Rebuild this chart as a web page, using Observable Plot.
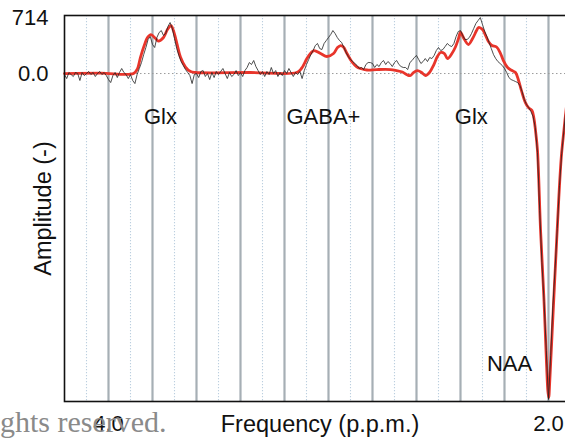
<!DOCTYPE html>
<html>
<head>
<meta charset="utf-8">
<script src="https://cdn.jsdelivr.net/npm/d3@7"></script>
<script src="https://cdn.jsdelivr.net/npm/@observablehq/plot@0.6"></script>
<style>
  html, body { margin: 0; padding: 0; background: white; overflow: hidden; }
  #wrap { position: relative; width: 565px; height: 438px; }
  #wm { position: absolute; left: 0px; top: 407px; font-family: "Liberation Serif", "Times New Roman", serif;
        font-size: 30px; line-height: 1; color: #8a8a8a; white-space: nowrap; }
</style>
</head>
<body>
<div id="wrap"><div id="chart"></div><div id="wm">ghts reserved.</div></div>
<script>
// Fitted model (red), ppm and amplitude
const fitPpm = [4.20, 4.036, 3.886, 3.868, 3.855, 3.836, 3.823, 3.807, 3.786, 3.773, 3.750, 3.732, 3.716, 3.705, 3.689, 3.673, 3.650, 3.627, 3.605, 3.355, 3.145, 3.123, 3.098, 3.082, 3.066, 3.036, 3.007, 2.977, 2.959, 2.945, 2.932, 2.916, 2.893, 2.873, 2.855, 2.825, 2.780, 2.718, 2.691, 2.664, 2.641, 2.627, 2.614, 2.595, 2.577, 2.559, 2.541, 2.523, 2.505, 2.491, 2.473, 2.459, 2.439, 2.423, 2.409, 2.400, 2.382, 2.364, 2.345, 2.327, 2.318, 2.300, 2.286, 2.273, 2.257, 2.236, 2.218, 2.205, 2.186, 2.166, 2.150, 2.136, 2.123, 2.105, 2.091, 2.075, 2.066, 2.059, 2.050, 2.036, 2.021, 2.009, 2.003, 1.999, 1.994, 1.983, 1.968, 1.953, 1.942, 1.930, 1.918];
const fitAmp = [0, 6, 0, 64, 204, 370, 459, 497, 446, 414, 459, 561, 612, 548, 383, 210, 83, 25, 13, 13, 13, 64, 191, 255, 293, 255, 217, 255, 332, 357, 338, 255, 147, 89, 64, 45, 51, 51, 38, 19, -19, -25, 13, 38, 13, -25, 13, 102, 217, 268, 255, 191, 255, 338, 446, 523, 433, 370, 446, 548, 587, 561, 485, 408, 357, 338, 255, 166, 77, 38, 13, -89, -217, -370, -434, -472, -574, -727, -982, -2002, -2856, -3698, -4042, -4131, -3914, -3277, -2423, -1581, -1071, -727, -408];

// Measured spectrum (black), sampled every 0.01 ppm from 4.20 ppm downward
const rawStart = 4.20, rawStep = 0.01;
const rawAmp = [
-13,-64,13,-13,-38,13,0,-89,13,-26,
0,26,-13,13,-38,0,26,-13,13,-26,
-77,-115,-26,13,-51,13,64,13,-13,-64,
-13,-89,-128,-13,64,140,242,332,434,472,
370,332,459,523,548,485,510,599,650,574,
446,319,230,153,102,51,13,-26,-128,-13,
0,-51,26,38,-38,0,-77,13,-51,26,
-13,26,64,0,-64,13,-38,-13,38,-26,
13,-38,38,77,140,115,166,89,38,-13,
26,-38,26,-13,77,0,38,-38,13,-26,
38,0,64,13,-38,13,-13,26,-64,38,
115,179,242,293,357,383,319,306,383,421,
459,497,548,510,459,421,395,332,268,217,
179,153,128,102,64,77,51,115,140,140,
128,77,115,89,140,166,115,153,128,89,
140,166,115,89,77,77,51,140,166,204,
230,179,128,153,191,153,204,191,230,293,
332,293,306,344,383,357,344,383,472,536,
548,485,434,434,459,510,574,638,676,714,
625,536,472,395,319,242,191,153,128,102,
64,13,-51,-77,-89,-102,-115,-153,-230,-332,
-395,-434,-485,-548,-689,-1007,-1747,-2410,-2907,-3532,
-4157,-3596,-2958,-2486,-1976,-1428,-1020,-727,-421];

const xTicks = [4.0, 2.0];
const yTicks = [0, 714];
const gridMajor = [4.0, 3.8, 3.6, 3.4, 3.2, 3.0, 2.8, 2.6, 2.4, 2.2, 2.0];
const gridMinor = [4.1, 3.9, 3.7, 3.5, 3.3, 3.1, 2.9, 2.7, 2.5, 2.3, 2.1];

const labelText = ["Glx", "GABA+", "Glx", "NAA"];
const labelPpm = [3.764, 3.023, 2.351, 2.177];
const labelAmp = [-548, -548, -548, -3698];

const fit = fitPpm.map((p, i) => ({ppm: p, amp: fitAmp[i]}));
const raw = rawAmp.map((a, i) => ({ppm: rawStart - i * rawStep, amp: a}));
const labels = labelText.map((t, i) => ({t, ppm: labelPpm[i], amp: labelAmp[i]}));

const font = "Liberation Sans, Arial, Helvetica, sans-serif";

const chart = Plot.plot({
  width: 565,
  height: 438,
  marginLeft: 64,
  marginRight: -2,
  marginTop: 15,
  marginBottom: 37,
  style: {fontFamily: font, fontSize: "22px", color: "#111", background: "white", overflow: "hidden"},
  x: {domain: [4.2, 1.9136], ticks: xTicks, tickFormat: d3.format(".1f"), tickSize: 0, tickPadding: 14, label: null},
  y: {domain: [-4182, 740], ticks: yTicks, tickFormat: d => d === 0 ? "0.0" : String(d), tickSize: 0, tickPadding: 16, label: null},
  marks: [
    Plot.ruleX(gridMinor, {stroke: "#bccfdf", strokeWidth: 1.1, strokeDasharray: "1.2,1.8"}),
    Plot.ruleX(gridMajor, {stroke: "#a6afb5", strokeWidth: 2.2}),
    Plot.ruleY([0], {stroke: "#9a9a9a", strokeWidth: 1, strokeDasharray: "1.5,2.5"}),
    Plot.line(fit, {x: "ppm", y: "amp", stroke: "#e8352b", strokeWidth: 2.8, curve: "catmull-rom"}),
    Plot.line(raw, {x: "ppm", y: "amp", stroke: "#222", strokeWidth: 1, strokeOpacity: 0.8}),
    Plot.frame({stroke: "#111", strokeWidth: 1.6}),
    Plot.text(labels, {x: "ppm", y: "amp", text: "t", fontSize: 22, fill: "#111", textAnchor: "middle", lineAnchor: "middle"}),
    Plot.text(["Frequency (p.p.m.)"], {frameAnchor: "bottom", dx: 4, dy: 14, lineAnchor: "top", fontSize: 23.5, fill: "#111"}),
    Plot.text(["Amplitude (-)"], {frameAnchor: "left", dx: -21, rotate: -90, lineAnchor: "middle", textAnchor: "middle", fontSize: 23.5, fill: "#111"})
  ]
});
document.getElementById("chart").appendChild(chart);
</script>
</body>
</html>
